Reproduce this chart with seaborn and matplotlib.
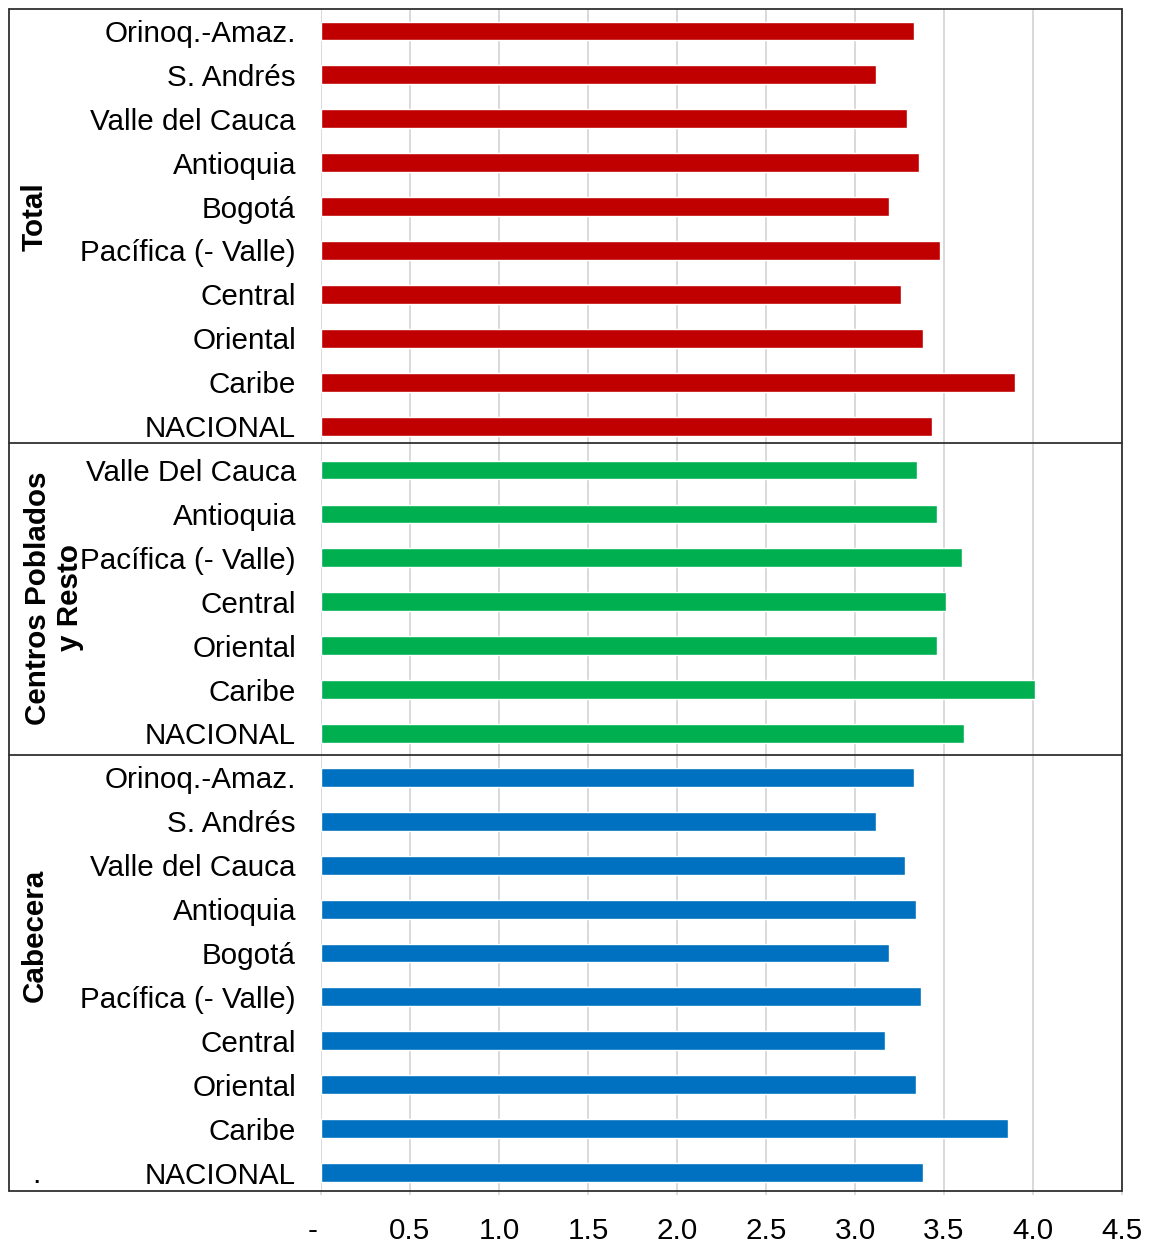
import matplotlib
matplotlib.use("Agg")
import matplotlib.pyplot as plt
import matplotlib.transforms as mtransforms
from matplotlib.lines import Line2D
import seaborn as sns
import pandas as pd

# data, top to bottom within each group
total_labels = ["Orinoq.-Amaz.", "S. Andrés", "Valle del Cauca", "Antioquia", "Bogotá",
                "Pacífica (- Valle)", "Central", "Oriental", "Caribe", "NACIONAL"]
total_values = [3.33, 3.12, 3.29, 3.36, 3.19, 3.48, 3.26, 3.38, 3.90, 3.43]

centros_labels = ["Valle Del Cauca", "Antioquia", "Pacífica (- Valle)", "Central",
                  "Oriental", "Caribe", "NACIONAL"]
centros_values = [3.35, 3.46, 3.60, 3.51, 3.46, 4.01, 3.61]

cabecera_labels = ["Orinoq.-Amaz.", "S. Andrés", "Valle del Cauca", "Antioquia", "Bogotá",
                   "Pacífica (- Valle)", "Central", "Oriental", "Caribe", "NACIONAL"]
cabecera_values = [3.33, 3.12, 3.28, 3.34, 3.19, 3.37, 3.17, 3.34, 3.86, 3.38]

colors = {"Total": "#C00000", "Centros": "#00B050", "Cabecera": "#0070C0"}
xticks = [0, 0.5, 1.0, 1.5, 2.0, 2.5, 3.0, 3.5, 4.0, 4.5]
xticklabels = ["-", "0.5", "1.0", "1.5", "2.0", "2.5", "3.0", "3.5", "4.0", "4.5"]

rows = []
for g, labs, vals in [("Total", total_labels, total_values),
                      ("Centros", centros_labels, centros_values),
                      ("Cabecera", cabecera_labels, cabecera_values)]:
    for l, v in zip(labs, vals):
        rows.append({"key": g + "|" + l, "label": l, "group": g, "value": v})
df = pd.DataFrame(rows)

sns.set_style("white")
plt.rcParams["font.family"] = ["Liberation Sans", "DejaVu Sans"]
plt.rcParams["text.color"] = "black"

fs = 21.3
fig = plt.figure(figsize=(11.5, 12.43), dpi=100)
W, H = 1150, 1243
ax = fig.add_axes([321 / W, 1 - 1191 / H, (1122 - 321) / W, (1191 - 9) / H])

sns.barplot(data=df, x="value", y="key", hue="group", palette=colors, dodge=False,
            width=0.43, orient="h", ax=ax, legend=False, saturation=1)

ax.set_xlim(0, 4.5)
ax.set_ylim(26.42, -0.5)
ax.set_xticks(xticks)
ax.set_xticklabels(xticklabels, fontsize=fs, color="black")
ax.set_yticks(range(len(df)))
ax.set_yticklabels(df["label"], fontsize=fs, color="black")
ax.set_xlabel("")
ax.set_ylabel("")
ax.tick_params(axis="y", length=0, pad=18)
ax.tick_params(axis="x", length=3, color="#d9d9d9", width=1.2, pad=16, bottom=True)
ax.xaxis.grid(True, color="#d9d9d9", linewidth=1.4)
ax.set_axisbelow(True)
for s in ax.spines.values():
    s.set_visible(False)

# the "-" label for zero sits a bit left of the gridline
dash = ax.get_xticklabels()[0]
dash.set_transform(dash.get_transform() + mtransforms.ScaledTranslation(-8 / 100, 0, fig.dpi_scale_trans))

# outer frame and group separators (figure coords)
x0, x1 = 9 / W, 1122 / W
yt, yb = 1 - 9 / H, 1 - 1191 / H
fc = "#303030"
for xs, ys in [([x0, x1], [yt, yt]), ([x0, x1], [yb, yb]),
               ([x0, x0], [yb, yt]), ([x1, x1], [yb, yt]),
               ([x0, x1], [1 - 443 / H] * 2), ([x0, x1], [1 - 755 / H] * 2)]:
    fig.add_artist(Line2D(xs, ys, color=fc, linewidth=1.3))

fig.text(35 / W, 1 - 217 / H, "Total", rotation=90, fontsize=fs, fontweight="bold",
         ha="center", va="center")
fig.text(54 / W, 1 - 598 / H, "Centros Poblados\ny Resto", rotation=90, fontsize=fs,
         fontweight="bold", ha="center", va="center", multialignment="center",
         linespacing=1.15)
fig.text(35 / W, 1 - 935 / H, "Cabecera", rotation=90, fontsize=fs, fontweight="bold",
         ha="center", va="center")
fig.text(36 / W, 1 - 1175 / H, ".", fontsize=fs, ha="center", va="center")

fig.savefig("out.png", dpi=100)
